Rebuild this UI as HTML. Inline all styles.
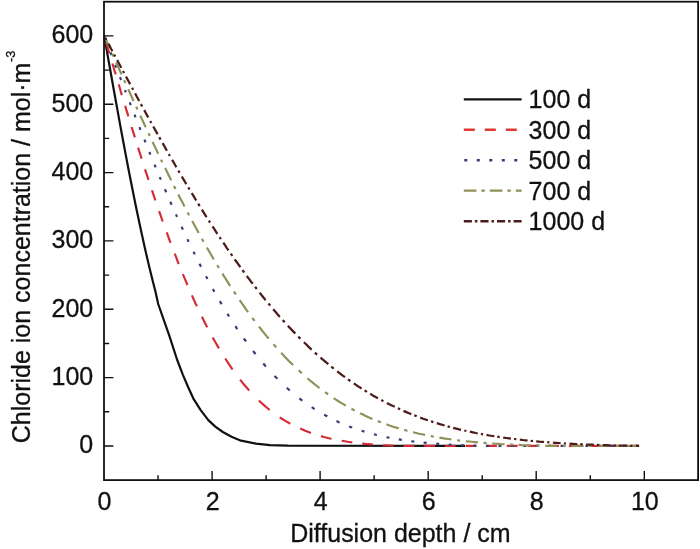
<!DOCTYPE html><html><head><meta charset="utf-8"><title>Chloride ion concentration vs diffusion depth</title>
<style>html,body{margin:0;padding:0;background:#fff}svg{display:block}text{font-family:"Liberation Sans",Arial,sans-serif;fill:#111;stroke:#111;stroke-width:.3px}</style></head><body>
<svg width="700" height="549" viewBox="0 0 700 549">
<rect width="700" height="549" fill="#fff"/>
<path d="M104.2 35.9 L106.9 51.1 L109.6 66.3 L112.3 81.5 L115.0 96.5 L117.7 111.4 L120.4 126.2 L123.1 140.7 L125.8 155.1 L128.5 169.2 L131.2 183.0 L133.9 196.5 L136.6 209.7 L139.3 222.6 L142.0 235.1 L144.7 247.2 L147.4 259.0 L150.1 270.3 L152.8 281.3 L155.5 291.8 L158.2 304.0 L169.2 335.4 L177.2 360.0 L182.8 374.6 L188.2 387.3 L193.7 399.2 L200.5 409.8 L208.3 420.1 L215.3 426.6 L222.8 432.0 L231.5 436.8 L241.0 440.7 L256.0 443.6 L270.0 445.2 L288.0 445.7 L465.0 445.8" fill="none" stroke="#111111" stroke-width="2.2" stroke-linejoin="round"/>
<path d="M106.1 42.4 L107.0 45.3 L107.9 48.2 L108.7 51.1 L109.4 53.3 M112.4 63.5 L113.3 66.4 L114.1 69.3 L115.0 72.1 L115.7 74.3 M118.7 84.4 L119.8 88.0 L120.8 91.6 L121.9 95.1 M125.2 105.8 L126.2 109.4 L127.3 112.9 L128.4 116.4 M131.6 127.0 L132.7 130.4 L133.8 133.9 L134.9 137.4 M138.1 147.7 L139.2 151.1 L140.3 154.5 L141.4 157.9 L141.6 158.6 M145.0 169.3 L146.1 172.6 L147.2 175.9 L148.3 179.2 L148.5 179.8 M152.0 190.2 L153.0 193.4 L154.1 196.6 L155.2 199.8 L155.4 200.4 M159.1 211.1 L160.2 214.2 L161.3 217.3 L162.3 220.3 L162.8 221.5 M166.7 232.3 L167.7 235.2 L168.8 238.2 L169.9 241.1 L170.5 242.8 M174.7 253.6 L176.0 256.9 L177.2 260.2 L178.5 263.5 L178.8 264.1 M182.9 274.2 L184.2 277.3 L185.5 280.4 L186.8 283.5 L187.4 285.0 M191.9 295.4 L193.2 298.3 L194.5 301.1 L195.8 304.0 L196.9 306.3 M201.9 316.7 L203.4 319.7 L204.9 322.7 L206.4 325.7 L207.3 327.3 M212.7 337.4 L214.2 340.2 L215.7 342.8 L217.2 345.4 L219.0 348.4 M225.2 358.5 L227.0 361.2 L228.7 363.8 L230.4 366.4 L232.1 368.9 L232.6 369.5 M240.1 379.6 L242.1 382.1 L244.0 384.5 L246.0 386.8 L248.1 389.3 L249.2 390.5 M258.9 400.5 L261.3 402.8 L263.7 404.9 L266.1 407.0 L268.5 409.0 L269.7 410.0 M279.7 417.3 L282.3 419.0 L284.9 420.6 L287.5 422.1 L290.3 423.7 M300.2 428.6 L303.0 429.8 L305.8 431.0 L308.6 432.1 L311.0 432.9 M321.0 436.1 L324.0 437.0 L327.0 437.7 L330.0 438.5 L331.6 438.8 M341.7 440.8 L344.7 441.3 L347.8 441.8 L350.8 442.2 L352.3 442.4 M362.2 443.6 L365.3 443.9 L368.3 444.1 L371.3 444.4 L373.1 444.5 M383.0 445.2 L386.0 445.3 L389.0 445.5 L392.1 445.6 L393.6 445.7 M403.5 445.9 L406.6 445.9 L409.6 445.9 L412.6 445.9 L414.3 445.9 M424.3 445.9 L427.3 445.9 L430.3 445.9 L433.4 445.9 L434.9 445.9 M445.0 445.9 L448.0 445.9 L451.1 445.9 L454.1 445.9 L455.6 445.9 M465.6 445.9 L468.6 445.9 L471.6 445.9 L474.6 445.9 L476.4 445.9 M486.3 445.9 L489.3 445.9 L492.4 445.9 L495.4 445.9 L496.9 445.9 M506.8 445.9 L509.9 445.9 L512.9 445.9 L515.9 445.9 L517.6 445.9 M527.6 445.9 L530.6 445.9 L533.6 445.9 L536.7 445.9 L538.2 445.9 M548.3 445.9 L551.4 445.9 L554.4 445.9 L557.4 445.9 L558.9 445.9 M568.9 445.9 L571.9 445.9 L574.9 445.9 L577.9 445.9 L579.7 445.9 M589.6 445.9 L592.6 445.9 L595.7 445.9 L598.7 445.9 L600.2 445.9 M610.1 445.9 L613.2 445.9 L616.2 445.9 L619.2 445.9 L620.9 445.9 M630.9 445.9 L633.9 445.9 L636.9 445.9 L639.1 445.9" fill="none" stroke="#d42c36" stroke-width="2.15" stroke-linejoin="round"/>
<path d="M105.9 40.4 L106.8 42.7 M110.5 52.4 L111.5 55.2 M115.2 64.8 L116.3 67.6 M120.0 77.2 L121.1 80.0 M124.9 90.1 L125.8 92.4 M129.7 102.4 L130.8 105.2 M134.5 114.6 L135.5 117.3 M139.4 127.2 L140.5 129.9 M144.4 139.7 L145.5 142.4 M149.4 152.0 L150.4 154.6 M154.6 164.6 L155.6 167.3 M159.7 177.1 L160.8 179.7 M164.9 189.3 L166.2 192.3 M170.3 201.8 L171.6 204.7 M176.0 214.4 L177.0 216.8 M181.6 226.8 L182.9 229.6 M187.4 239.2 L188.7 241.9 M193.5 251.7 L194.8 254.4 M199.5 263.8 L201.0 266.8 M206.0 276.3 L207.5 279.1 M212.9 289.0 L214.4 291.7 M219.8 301.1 L221.6 304.1 M227.4 313.7 L229.1 316.5 M235.4 326.2 L237.1 328.8 L237.3 329.1 M243.8 338.5 L245.8 341.2 L246.0 341.5 M253.1 351.0 L255.1 353.5 L255.5 354.1 M263.3 363.5 L265.4 366.0 L265.9 366.5 M274.5 375.9 L276.7 378.1 L277.3 378.8 M286.8 387.8 L289.2 390.0 L289.8 390.5 M299.4 398.3 L301.9 400.3 L302.4 400.6 M311.7 407.2 L314.3 408.9 L314.7 409.1 M324.2 414.8 L327.0 416.3 L327.2 416.5 M336.5 421.1 L339.3 422.4 L339.6 422.5 M349.1 426.4 L351.9 427.5 L352.1 427.6 M361.6 430.8 L364.4 431.6 M373.9 434.3 L376.9 435.0 M386.5 437.2 L389.5 437.8 M398.8 439.4 L401.8 439.9 M411.3 441.2 L414.3 441.6 M423.6 442.6 L426.7 442.9 M436.2 443.7 L439.2 443.9 M448.7 444.5 L451.5 444.7 M461.0 445.2 L464.0 445.3 M473.5 445.6 L476.4 445.7 M485.9 445.9 L488.9 445.9 M498.4 445.9 L501.4 445.9 M510.7 445.9 L513.7 445.9 M523.3 445.9 L526.3 445.9 M535.6 445.9 L538.6 445.9 M548.1 445.9 L551.1 445.9 M560.6 445.9 L563.5 445.9 M573.0 445.9 L576.0 445.9 M585.5 445.9 L588.3 445.9 M597.8 445.9 L600.8 445.9 M610.4 445.9 L613.4 445.9 M622.7 445.9 L625.7 445.9 M635.2 445.9 L638.2 445.9" fill="none" stroke="#343c78" stroke-width="2.15" stroke-linejoin="round"/>
<path d="M104.2 35.9 L105.5 38.8 L106.8 41.7 L108.1 44.6 L109.4 47.5 L109.6 47.9 M112.2 53.7 L113.5 56.6 M116.1 62.4 L117.4 65.3 L118.7 68.1 L120.0 71.0 L121.3 73.9 L121.5 74.4 M124.1 80.1 L125.4 83.0 M128.2 89.2 L129.5 92.0 L130.8 94.9 L132.1 97.7 L133.4 100.5 L133.6 101.0 M136.2 106.7 L137.5 109.5 M140.3 115.6 L141.6 118.4 L142.9 121.2 L144.2 124.0 L145.5 126.8 L145.7 127.2 M148.5 133.2 L149.8 136.0 M152.6 141.9 L153.9 144.7 L155.2 147.4 L156.5 150.1 L157.8 152.8 L158.2 153.7 M161.0 159.6 L162.3 162.3 M165.1 168.0 L166.7 171.1 L168.2 174.2 L169.7 177.2 L171.2 180.3 M174.0 185.9 L175.5 188.9 M178.3 194.5 L179.8 197.4 L181.4 200.4 L182.9 203.3 L184.4 206.2 L184.6 206.6 M187.6 212.4 L189.1 215.3 M192.2 220.9 L193.7 223.8 L195.2 226.6 L196.7 229.3 L198.2 232.1 L198.6 232.9 M201.9 238.7 L203.4 241.4 L203.6 241.8 M206.9 247.5 L208.4 250.1 L209.9 252.7 L211.4 255.3 L213.1 258.3 L213.8 259.4 M217.2 265.2 L219.0 268.0 M222.4 273.6 L224.1 276.4 L225.9 279.2 L227.6 281.9 L229.3 284.6 L230.2 285.9 M233.9 291.5 L235.6 294.1 L235.8 294.5 M239.7 300.2 L241.4 302.7 L243.2 305.2 L244.9 307.6 L246.8 310.4 L248.1 312.2 M252.2 317.8 L254.2 320.4 L254.6 320.9 M258.9 326.6 L260.9 329.0 L262.8 331.5 L264.8 333.9 L266.7 336.3 L268.7 338.6 M273.4 344.2 L275.6 346.6 L276.2 347.4 M281.2 352.8 L283.4 355.2 L285.5 357.4 L287.7 359.7 L289.8 361.9 L292.0 364.0 L293.1 365.1 M298.7 370.4 L301.1 372.6 L301.7 373.2 M307.4 378.2 L309.7 380.2 L312.1 382.2 L314.5 384.1 L316.9 386.0 L319.2 387.8 L319.5 388.0 M325.1 392.2 L327.7 394.0 L328.1 394.3 M333.7 398.2 L336.3 399.8 L338.9 401.5 L341.5 403.1 L344.1 404.6 L345.8 405.6 M351.4 408.8 L354.3 410.3 L354.7 410.5 M360.1 413.3 L362.9 414.6 L365.7 415.9 L368.5 417.2 L371.3 418.4 L372.4 418.9 M377.8 421.1 L380.6 422.2 L381.0 422.4 M386.5 424.3 L389.5 425.4 L392.5 426.4 L395.5 427.4 L398.6 428.3 L398.8 428.4 M404.2 429.9 L407.2 430.8 L407.4 430.8 M413.0 432.3 L416.1 433.0 L419.1 433.7 L422.1 434.3 L425.1 435.0 M430.8 436.1 L433.8 436.7 M439.4 437.6 L442.4 438.1 L445.5 438.6 L448.5 439.0 L451.5 439.5 M457.1 440.2 L460.1 440.6 M465.8 441.2 L468.8 441.5 L471.8 441.8 L474.8 442.1 L477.9 442.4 M483.5 442.9 L486.5 443.1 L486.7 443.1 M492.1 443.5 L495.2 443.7 L498.2 443.9 L501.2 444.1 L504.2 444.2 L504.5 444.3 M509.9 444.5 L512.9 444.7 L513.1 444.7 M518.5 444.9 L521.5 445.1 L524.6 445.2 L527.6 445.3 L530.6 445.4 L530.8 445.4 M536.2 445.6 L539.2 445.6 L539.5 445.7 M545.1 445.8 L548.1 445.9 L551.1 445.9 L554.2 445.9 L557.2 445.9 M562.8 445.9 L565.8 445.9 M571.5 445.9 L574.5 445.9 L577.5 445.9 L580.5 445.9 L583.6 445.9 M589.2 445.9 L592.2 445.9 M597.8 445.9 L600.8 445.9 L603.9 445.9 L606.9 445.9 L609.9 445.9 M615.5 445.9 L618.6 445.9 L618.8 445.9 M624.2 445.9 L627.2 445.9 L630.2 445.9 L633.3 445.9 L636.3 445.9 L636.5 445.9" fill="none" stroke="#90905a" stroke-width="2.15" stroke-linejoin="round"/>
<path d="M105.3 37.9 L106.4 39.9 M108.3 43.6 L109.8 46.4 L111.3 49.2 L112.4 51.3 M114.1 54.5 L115.2 56.5 M117.2 60.1 L118.7 63.0 L120.2 65.8 L121.3 67.8 M123.0 71.0 L124.1 73.0 M126.0 76.6 L127.5 79.4 L129.1 82.3 L130.1 84.3 M132.1 87.8 L133.2 89.8 M135.1 93.4 L136.6 96.2 L138.1 99.0 L139.2 101.0 M140.9 104.1 L142.2 106.5 M144.2 110.1 L145.7 112.8 L147.2 115.6 L148.3 117.5 M150.2 121.1 L151.3 123.0 M153.3 126.5 L154.8 129.2 L156.3 131.9 L157.6 134.3 M159.3 137.3 L160.6 139.6 M162.6 143.1 L164.1 145.8 L165.6 148.4 L166.9 150.7 M168.8 154.1 L169.9 156.0 M172.1 159.8 L173.6 162.4 L175.1 165.0 L176.4 167.2 M178.3 170.6 L179.6 172.8 M181.8 176.5 L183.5 179.4 L185.2 182.3 L186.3 184.1 M188.3 187.4 L189.6 189.5 M191.7 193.1 L193.5 195.9 L195.2 198.8 L196.3 200.5 M198.2 203.7 L199.7 206.1 M201.9 209.6 L203.6 212.4 L205.3 215.1 L206.6 217.2 M208.8 220.6 L210.1 222.6 M212.5 226.3 L214.2 228.9 L215.9 231.6 L217.4 233.9 M219.6 237.2 L220.9 239.1 M223.3 242.7 L225.0 245.2 L226.7 247.8 L228.5 250.3 M230.8 253.7 L232.4 255.9 M234.7 259.3 L236.7 262.0 L238.6 264.7 L240.4 267.1 M242.5 270.1 L244.2 272.5 M246.8 276.0 L248.8 278.6 L250.7 281.2 L252.7 283.7 M255.1 286.8 L256.8 289.0 M259.6 292.6 L261.5 295.0 L263.5 297.5 L265.4 299.9 L265.6 300.1 M268.5 303.5 L270.2 305.6 M273.2 309.2 L275.4 311.7 L277.5 314.2 L279.7 316.7 L279.9 316.9 M282.7 320.1 L284.7 322.2 M287.9 325.8 L290.1 328.1 L292.2 330.4 L294.4 332.6 L295.3 333.5 M298.3 336.6 L300.4 338.8 M303.9 342.2 L306.1 344.3 L308.4 346.6 L310.8 348.8 L311.7 349.6 M314.9 352.6 L317.1 354.6 M320.5 357.6 L322.9 359.7 L325.3 361.7 L327.7 363.7 L328.3 364.2 M331.3 366.7 L333.7 368.6 M337.2 371.3 L339.8 373.3 L342.4 375.3 L345.0 377.2 M348.0 379.3 L350.4 381.0 M353.8 383.4 L356.4 385.2 L359.0 386.9 L361.6 388.5 M364.6 390.4 L367.0 391.9 M370.2 393.8 L372.8 395.4 L375.6 397.0 L378.0 398.3 M381.3 400.1 L383.4 401.2 M386.9 403.0 L389.7 404.4 L392.5 405.8 L394.7 406.8 M397.9 408.3 L400.1 409.3 M403.5 410.9 L406.3 412.1 L409.1 413.3 L411.3 414.1 M414.3 415.3 L416.7 416.3 M420.2 417.6 L423.2 418.7 L426.2 419.7 L427.9 420.3 M431.0 421.3 L433.4 422.1 M436.8 423.2 L439.8 424.1 L442.9 425.0 L444.6 425.5 M447.6 426.3 L450.0 427.0 M453.2 427.8 L456.3 428.6 L459.3 429.4 L461.0 429.8 M464.3 430.5 L466.4 431.0 M469.9 431.7 L472.9 432.4 L475.9 433.0 L477.7 433.3 M480.9 433.9 L483.1 434.3 M486.5 434.9 L489.5 435.5 L492.6 436.0 L494.3 436.2 M497.3 436.7 L499.7 437.1 M503.2 437.6 L506.2 438.0 L509.2 438.4 L510.9 438.6 M514.0 439.0 L516.3 439.2 M519.8 439.6 L522.8 440.0 L525.9 440.3 L527.6 440.5 M530.6 440.8 L533.0 441.0 M536.2 441.3 L539.2 441.6 L542.3 441.8 L544.0 442.0 M547.2 442.2 L549.4 442.4 M552.9 442.6 L555.9 442.8 L558.9 443.0 L560.6 443.1 M563.9 443.3 L566.0 443.5 M569.5 443.7 L572.5 443.8 L575.6 444.0 L577.3 444.1 M580.3 444.2 L582.7 444.3 M586.1 444.5 L589.2 444.6 L592.2 444.7 L593.9 444.8 M597.0 444.9 L599.3 445.0 M602.8 445.1 L605.8 445.2 L608.8 445.3 L610.6 445.3 M613.6 445.4 L616.0 445.5 M619.2 445.6 L622.2 445.6 L625.3 445.7 L627.2 445.7 M630.2 445.8 L632.4 445.9 M635.9 445.9 L638.9 445.9 L639.1 445.9" fill="none" stroke="#4c1c1a" stroke-width="2.25" stroke-linejoin="round"/>
<rect x="104.0" y="1.7" width="594.1" height="478.4" fill="none" stroke="#111" stroke-width="1.8"/>
<path d="M158.0 480.1 V475.3 M212.1 480.1 V470.9 M266.1 480.1 V475.3 M320.1 480.1 V470.9 M374.1 480.1 V475.3 M428.2 480.1 V470.9 M482.2 480.1 V475.3 M536.2 480.1 V470.9 M590.3 480.1 V475.3 M644.3 480.1 V470.9 M104.0 446.0 H113.4 M104.0 411.8 H109.2 M104.0 377.6 H113.4 M104.0 343.5 H109.2 M104.0 309.3 H113.4 M104.0 275.1 H109.2 M104.0 240.9 H113.4 M104.0 206.8 H109.2 M104.0 172.6 H113.4 M104.0 138.4 H109.2 M104.0 104.2 H113.4 M104.0 70.1 H109.2 M104.0 35.9 H113.4" stroke="#111" stroke-width="1.4" fill="none"/>
<g font-size="25" text-anchor="middle">
<text transform="translate(104.5 509.7) scale(1 1.05)">0</text>
<text transform="translate(212.6 509.7) scale(1 1.05)">2</text>
<text transform="translate(320.6 509.7) scale(1 1.05)">4</text>
<text transform="translate(428.7 509.7) scale(1 1.05)">6</text>
<text transform="translate(536.7 509.7) scale(1 1.05)">8</text>
<text transform="translate(644.8 509.7) scale(1 1.05)">10</text>
</g>
<g font-size="25" text-anchor="end">
<text transform="translate(93.2 453.2) scale(1 1.05)">0</text>
<text transform="translate(93.2 384.8) scale(1 1.05)">100</text>
<text transform="translate(93.2 316.5) scale(1 1.05)">200</text>
<text transform="translate(93.2 248.1) scale(1 1.05)">300</text>
<text transform="translate(93.2 179.8) scale(1 1.05)">400</text>
<text transform="translate(93.2 111.5) scale(1 1.05)">500</text>
<text transform="translate(93.2 43.1) scale(1 1.05)">600</text>
</g>
<text transform="translate(400.4 541.5) scale(1 1.05)" font-size="25" text-anchor="middle">Diffusion depth / cm</text>
<text transform="translate(30.2 443.2) rotate(-90) scale(1 1.05)" font-size="25">Chloride ion concentration / mol·m<tspan font-size="12.8" dx="0.6" dy="-14.3">-3</tspan></text>
<path d="M463.8 99.4 H521.6" stroke="#111111" stroke-width="2.4" fill="none"/>
<text transform="translate(528.6 108.4) scale(1 1.05)" font-size="25">100 d</text>
<path d="M463.8 129.7 H521.6" stroke="#de3a30" stroke-width="2.5" fill="none" stroke-dasharray="11 10"/>
<text transform="translate(528.6 138.7) scale(1 1.05)" font-size="25">300 d</text>
<path d="M464.3 160.3 H521.6" stroke="#343c78" stroke-width="2.5" fill="none" stroke-dasharray="3 9.5"/>
<text transform="translate(528.6 169.3) scale(1 1.05)" font-size="25">500 d</text>
<path d="M463.8 190.7 H521.6" stroke="#90905a" stroke-width="2.2" fill="none" stroke-dasharray="12.6 5 3.4 5"/>
<text transform="translate(528.6 199.7) scale(1 1.05)" font-size="25">700 d</text>
<path d="M463.8 221.2 H521.6" stroke="#4c1c1a" stroke-width="2.4" fill="none" stroke-dasharray="8.1 3 2.5 3"/>
<text transform="translate(528.6 230.2) scale(1 1.05)" font-size="25">1000 d</text>
</svg></body></html>
